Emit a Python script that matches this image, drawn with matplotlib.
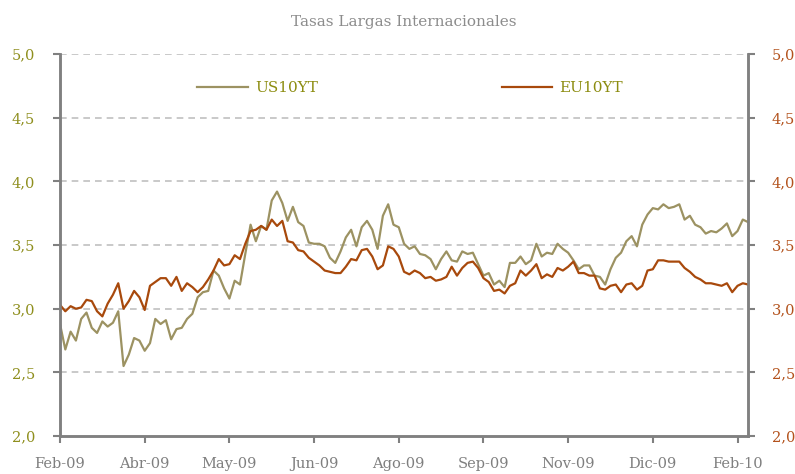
import numpy as np
import matplotlib
matplotlib.use("Agg")
import matplotlib.pyplot as plt
from matplotlib.ticker import FuncFormatter

# Series, one value every 2 trading days (Feb-09 .. Feb-10)
us10yt = [
    2.88, 2.68, 2.82, 2.75, 2.92, 2.97, 2.85, 2.81, 2.90, 2.86, 2.89, 2.98, 2.55, 2.64,
    2.77, 2.75, 2.67, 2.73, 2.92, 2.88, 2.91, 2.76, 2.84, 2.85, 2.92, 2.96, 3.09,
    3.13, 3.14, 3.30, 3.26, 3.16, 3.08, 3.22, 3.19, 3.43, 3.66, 3.53, 3.65, 3.62,
    3.85, 3.92, 3.83, 3.69, 3.80, 3.68, 3.65, 3.52, 3.51, 3.51, 3.49, 3.40, 3.36,
    3.45, 3.56, 3.62, 3.49, 3.64, 3.69, 3.62, 3.47, 3.73, 3.82, 3.66, 3.64, 3.51,
    3.47, 3.49, 3.43, 3.42, 3.39, 3.31, 3.39, 3.45, 3.38, 3.37, 3.45, 3.43, 3.44,
    3.35, 3.26, 3.28, 3.19, 3.22, 3.17, 3.36, 3.36, 3.41, 3.35, 3.38, 3.51, 3.41,
    3.44, 3.43, 3.51, 3.47, 3.44, 3.38, 3.31, 3.34, 3.34, 3.26, 3.25, 3.19,
    3.31, 3.40, 3.44, 3.53, 3.57, 3.49, 3.66, 3.74, 3.79, 3.78, 3.82, 3.79, 3.80,
    3.82, 3.70, 3.73, 3.66, 3.64, 3.59, 3.61, 3.60, 3.63, 3.67, 3.57, 3.61, 3.70, 3.68,
]
eu10yt = [
    3.03, 2.98, 3.02, 3.00, 3.01, 3.07, 3.06, 2.98, 2.94, 3.04, 3.11, 3.20, 3.00, 3.06,
    3.14, 3.09, 2.99, 3.18, 3.21, 3.24, 3.24, 3.18, 3.25, 3.14, 3.20, 3.17, 3.13,
    3.17, 3.23, 3.30, 3.39, 3.34, 3.35, 3.42, 3.39, 3.51, 3.61, 3.62, 3.65, 3.62,
    3.70, 3.65, 3.69, 3.53, 3.52, 3.46, 3.45, 3.40, 3.37, 3.34, 3.30, 3.29, 3.28,
    3.28, 3.33, 3.39, 3.38, 3.46, 3.47, 3.41, 3.31, 3.34, 3.49, 3.47, 3.41, 3.29,
    3.27, 3.30, 3.28, 3.24, 3.25, 3.22, 3.23, 3.25, 3.33, 3.26, 3.32, 3.36, 3.37,
    3.32, 3.24, 3.21, 3.14, 3.15, 3.12, 3.18, 3.20, 3.30, 3.26, 3.30, 3.35, 3.24,
    3.27, 3.25, 3.32, 3.30, 3.33, 3.37, 3.28, 3.28, 3.26, 3.26, 3.16, 3.15,
    3.18, 3.19, 3.13, 3.19, 3.20, 3.15, 3.18, 3.30, 3.31, 3.38, 3.38, 3.37, 3.37,
    3.37, 3.32, 3.29, 3.25, 3.23, 3.20, 3.20, 3.19, 3.18, 3.20, 3.13, 3.18, 3.20, 3.19,
]
tick_labels = ["Feb-09", "Abr-09", "May-09", "Jun-09", "Ago-09",
               "Sep-09", "Nov-09", "Dic-09", "Feb-10"]
y_ticks = [2.0, 2.5, 3.0, 3.5, 4.0, 4.5, 5.0]

day = np.arange(len(us10yt)) * 2          # trading-day index
tick_pos = np.arange(len(tick_labels)) * 32

plt.rcParams['font.family'] = ['DejaVu Serif']

c_us = '#9c9262'
c_eu = '#a8490c'
c_left = '#8f8f1e'
c_right = '#b3521c'
c_axis = '#808080'

fig = plt.figure(figsize=(7.95, 4.74), dpi=100)
ax = fig.add_axes([0.0755, 0.080, 0.8655, 0.806])
ax2 = ax.twinx()

for y in y_ticks[1:]:
    ax.axhline(y, color='#c0c0c0', linewidth=1.2, linestyle=(0, (4, 3)), zorder=0)

l1, = ax.plot(day, us10yt, color=c_us, linewidth=1.6, label='US10YT')
l2, = ax2.plot(day, eu10yt, color=c_eu, linewidth=1.6, label='EU10YT')

fmt = FuncFormatter(lambda v, p: f"{v:.1f}".replace('.', ','))
for a in (ax, ax2):
    a.set_ylim(2.0, 5.0)
    a.set_yticks(y_ticks)
    a.yaxis.set_major_formatter(fmt)
    a.set_xlim(0, 260)
    a.spines['top'].set_visible(False)
    for s in ('left', 'right', 'bottom'):
        a.spines[s].set_color(c_axis)
        a.spines[s].set_linewidth(1.8)

ax.set_xticks(tick_pos)
ax.set_xticklabels(tick_labels)
ax.tick_params(axis='x', colors=c_axis, labelcolor='#7f7f7f', length=5, width=1.5,
               pad=10, labelsize=10.5)
ax.tick_params(axis='y', colors=c_axis, labelcolor=c_left, length=5, width=1.5,
               pad=13, labelsize=10.5)
ax2.tick_params(axis='y', colors=c_axis, labelcolor=c_right, length=5, width=1.5,
                pad=12, labelsize=10.5)

ax.set_title('Tasas Largas Internacionales', color='#8c8c8c', fontsize=11, pad=20)

leg = ax.legend(handles=[l1, l2], loc='center', bbox_to_anchor=(0.509, 0.911), ncol=2,
                frameon=False, fontsize=11, handlelength=3.3, handletextpad=0.5,
                columnspacing=12)
for t in leg.get_texts():
    t.set_color('#8c8c10')

fig.savefig('out.png', dpi=100)
